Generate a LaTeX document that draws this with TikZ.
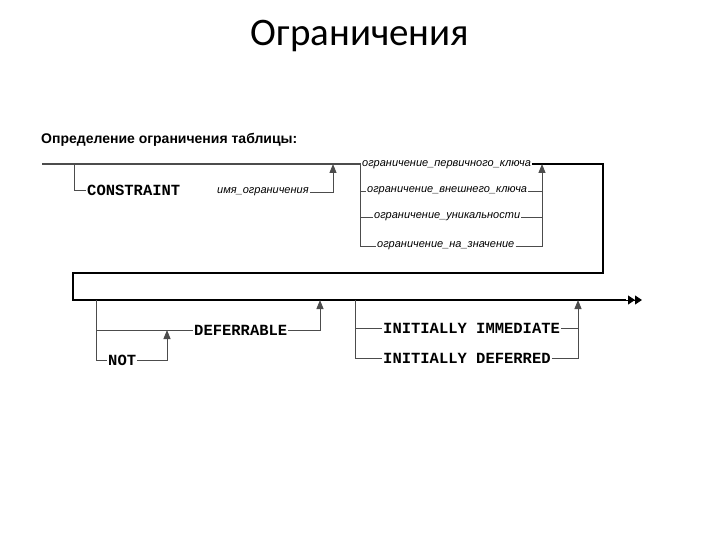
\documentclass[tikz,border=0pt]{standalone}
\usepackage{fontspec}
\setmainfont{Liberation Sans}
\setmonofont{Liberation Mono}
\newfontfamily\titlefont{Carlito}
\usetikzlibrary{arrows.meta}

\tikzset{
  kw/.style={font=\ttfamily\bfseries\fontsize{15.5}{17}\selectfont, inner sep=1pt, anchor=west},
  opt/.style={font=\itshape\fontsize{11}{13}\selectfont, inner sep=1pt, anchor=west},
  rail/.style={line width=1.8pt},
  branch/.style={line width=0.9pt, black!70},
  up/.style={-{Triangle[length=9pt,width=7pt]}},
}

\begin{document}
\begin{tikzpicture}[x=1pt, y=-1pt]
  \useasboundingbox (0,0) rectangle (720,540);
  \node[font=\titlefont\fontsize{39}{44}\selectfont] (title) at (360,36) {Ограничения};
  \node[font=\bfseries\fontsize{14}{16}\selectfont, anchor=west, inner sep=0pt] (head) at (41,140) {Определение ограничения таблицы:};

  % points on the rails
  \coordinate (s) at (42,164);
  \coordinate (c1) at (74,164);
  \coordinate (c2) at (333,164);
  \coordinate (o1) at (360,164);
  \coordinate (o2) at (542,164);
  \coordinate (r1) at (603,164);
  \coordinate (r2) at (603,273);
  \coordinate (r3) at (73,273);
  \coordinate (b0) at (73,300);
  \coordinate (n1) at (96,300);
  \coordinate (n2) at (167,330);
  \coordinate (n3) at (320,300);
  \coordinate (i1) at (355,300);
  \coordinate (i2) at (578,300);
  \coordinate (e0) at (626,300);
  \coordinate (e) at (642,300);

  \node[kw] (cons) at (86,190) {CONSTRAINT};
  \node[opt] (cname) at (216,192) {имя\_ограничения};
  \node[opt] (pk) at (361,165) {ограничение\_первичного\_ключа};
  \node[opt] (fk) at (366,191) {ограничение\_внешнего\_ключа};
  \node[opt] (uq) at (373,217) {ограничение\_уникальности};
  \node[opt] (ck) at (376,246) {ограничение\_на\_значение};

  \node[kw] (def) at (193,330) {DEFERRABLE};
  \node[kw] (not) at (107,360) {NOT};
  \node[kw] (imm) at (382,328) {INITIALLY IMMEDIATE};
  \node[kw] (dfd) at (382,358) {INITIALLY DEFERRED};

  % table constraint
  \draw[rail, black!70] (s) -- (pk.west |- s);
  \draw[rail] (pk.east |- r1) -- (r1) -- (r2) -- (r3) -- (b0) -- (e0);
  \draw[branch] (c1) |- (cons.west);
  \draw[branch, up] (cname.east) -| (c2);
  \draw[branch] (o1) |- (ck.west);
  \draw[branch] (o1 |- fk.west) -- (fk.west);
  \draw[branch] (o1 |- uq.west) -- (uq.west);
  \draw[branch] (fk.east) -- (fk.east -| o2);
  \draw[branch] (uq.east) -- (uq.east -| o2);
  \draw[branch, up] (ck.east) -| (o2);

  % deferrable
  \draw[branch] (n1) |- (not.west);
  \draw[branch] (n1 |- def.west) -- (def.west);
  \draw[branch, up] (not.east) -| (n2);
  \draw[branch, up] (def.east) -| (n3);
  \draw[branch] (i1) |- (dfd.west);
  \draw[branch] (i1 |- imm.west) -- (imm.west);
  \draw[branch] (imm.east) -- (imm.east -| i2);
  \draw[branch, up] (dfd.east) -| (i2);

  % end of statement
  \draw[line width=1pt, -{Triangle[length=7pt,width=9pt]Triangle[length=7pt,width=9pt]}]
    (e0) -- (e);
\end{tikzpicture}
\end{document}
